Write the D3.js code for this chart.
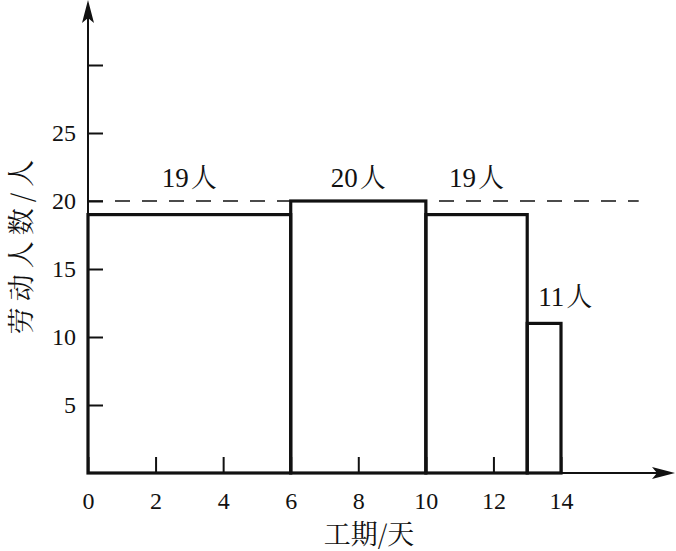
<!DOCTYPE html>
<html>
<head>
<meta charset="utf-8">
<script src="https://cdn.jsdelivr.net/npm/d3@7"></script>
<style>
  html, body { margin: 0; padding: 0; background: #fff; }
  svg { display: block; }
</style>
</head>
<body>
<svg id="chart" width="676" height="551"></svg>
<script>
// ---- data ----
const startDays = [0, 6, 10, 13];
const endDays = [6, 10, 13, 14];
const workers = [19, 20, 19, 11];
const xTicks = [0, 2, 4, 6, 8, 10, 12, 14];
const yTicks = [5, 10, 15, 20, 25, 30];
const yTickLabels = ["5", "10", "15", "20", "25", ""];
const limitLevel = 20;
const limitEnd = 16.3;
const xTitle = "工期/天";
const yTitle = "劳动人数/人";

const SERIF = "Liberation Serif, Noto Serif CJK SC";
const CJK = "Noto Serif CJK SC";

const svg = d3.select("#chart");

const x = d3.scaleLinear().domain([0, 14]).range([88, 561]);
const y = d3.scaleLinear().domain([0, 25]).range([473, 133]);

// x axis
const gx = svg.append("g").attr("transform", `translate(0,${y(0)})`)
  .call(d3.axisBottom(x).tickValues(xTicks).tickSizeInner(-16).tickSizeOuter(0).tickPadding(19).tickFormat(d3.format("d")))
  .attr("font-family", SERIF).attr("font-size", 24);
gx.select(".domain").remove();
gx.selectAll(".tick line").attr("stroke", "#111").attr("stroke-width", 2);
gx.selectAll(".tick text").attr("font-family", SERIF).attr("font-size", 24).attr("fill", "#111");

// y axis
const gy = svg.append("g").attr("transform", `translate(${x(0)},0)`)
  .call(d3.axisLeft(y).tickValues(yTicks).tickSizeInner(-15).tickSizeOuter(0).tickPadding(12)
    .tickFormat((d, i) => yTickLabels[i]))
  .attr("font-family", SERIF).attr("font-size", 24);
gy.select(".domain").remove();
gy.selectAll(".tick line").attr("stroke", "#111").attr("stroke-width", 2);
gy.selectAll(".tick text").attr("font-family", SERIF).attr("font-size", 24).attr("fill", "#111");

// axis lines with arrows
svg.append("line").attr("x1", x(0)).attr("y1", y(0)).attr("x2", 660).attr("y2", y(0))
  .attr("stroke", "#111").attr("stroke-width", 2);
svg.append("path").attr("d", `M675,${y(0)} L652,${y(0) - 6} L657,${y(0)} L652,${y(0) + 6} Z`).attr("fill", "#111");
svg.append("line").attr("x1", x(0)).attr("y1", y(0)).attr("x2", x(0)).attr("y2", 14)
  .attr("stroke", "#111").attr("stroke-width", 2);
svg.append("path").attr("d", `M${x(0)},0 L${x(0) - 6},23 L${x(0)},18 L${x(0) + 6},23 Z`).attr("fill", "#111");

// dashed limit line
svg.append("line").attr("x1", x(0)).attr("x2", x(limitEnd)).attr("y1", y(limitLevel)).attr("y2", y(limitLevel))
  .attr("stroke", "#111").attr("stroke-width", 1.6).attr("stroke-dasharray", "15,12");

// bars (outlined)
const bars = startDays.map((s, i) => ({ s, e: endDays[i], v: workers[i] }));
svg.append("g").selectAll("rect").data(bars).join("rect")
  .attr("x", d => x(d.s)).attr("y", d => y(d.v))
  .attr("width", d => x(d.e) - x(d.s)).attr("height", d => y(0) - y(d.v))
  .attr("fill", "none").attr("stroke", "#111").attr("stroke-width", 3.2);

// labels
svg.append("g").selectAll("text").data(bars).join("text")
  .attr("x", d => (d.e - d.s) > 1 ? x((d.s + d.e) / 2) : x(d.s) + 11)
  .attr("y", d => (d.e - d.s) > 1 ? y(limitLevel) - 14 : y(d.v) - 17)
  .attr("text-anchor", d => (d.e - d.s) > 1 ? "middle" : "start")
  .attr("font-family", SERIF).attr("font-size", 27).attr("fill", "#111")
  .each(function(d) {
    const t = d3.select(this);
    t.append("tspan").attr("font-family", SERIF).text(d.v);
    t.append("tspan").attr("font-family", CJK).attr("font-size", 26).attr("dx", 2).text("人");
  });

// axis titles
svg.append("text").attr("x", 369).attr("y", 544).attr("text-anchor", "middle")
  .attr("font-family", CJK).attr("font-size", 27).attr("fill", "#111").text(xTitle);
svg.append("text").attr("transform", "translate(31,244) rotate(-90)").attr("text-anchor", "middle")
  .attr("font-family", CJK).attr("font-size", 27).attr("letter-spacing", 6).attr("fill", "#111").text(yTitle);
</script>
</body>
</html>
